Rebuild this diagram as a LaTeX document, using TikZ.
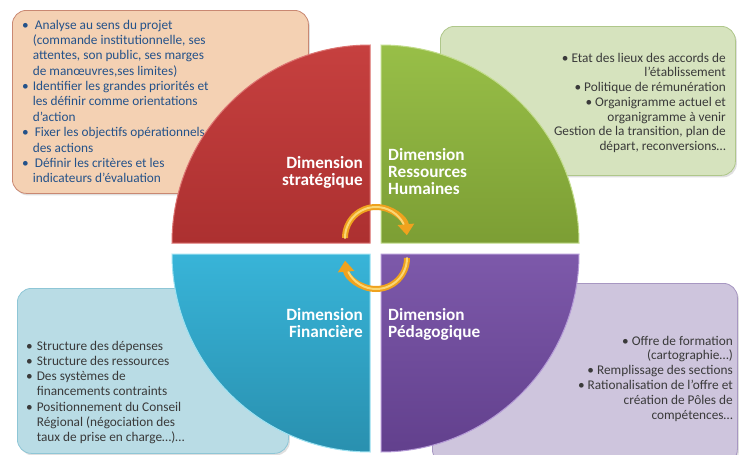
\documentclass[tikz,border=0pt]{standalone}
\usepackage{fontspec}
\setmainfont{Carlito}
\usetikzlibrary{arrows.meta,shadows}

\definecolor{peachfill}{HTML}{F4D1B3}
\definecolor{peachline}{HTML}{C98872}
\definecolor{sagefill}{HTML}{D6E3BE}
\definecolor{sageline}{HTML}{AFC78A}
\definecolor{skyfill}{HTML}{B9DCE5}
\definecolor{skyline}{HTML}{8EC6D6}
\definecolor{lilacfill}{HTML}{CEC5DD}
\definecolor{lilacline}{HTML}{A797C2}
\definecolor{txtblue}{HTML}{24528A}
\definecolor{txtgray}{HTML}{3A3A3A}
\definecolor{redtop}{HTML}{C6403F}
\definecolor{redbot}{HTML}{AC3030}
\definecolor{redrim}{HTML}{DC7472}
\definecolor{greentop}{HTML}{98BF48}
\definecolor{greenbot}{HTML}{7C9E34}
\definecolor{greenrim}{HTML}{C2DC8C}
\definecolor{bluetop}{HTML}{38B4D8}
\definecolor{bluebot}{HTML}{2990AF}
\definecolor{bluerim}{HTML}{9EE2F2}
\definecolor{purpletop}{HTML}{7D59AA}
\definecolor{purplebot}{HTML}{62408D}
\definecolor{purplerim}{HTML}{B49AD6}
\definecolor{arrowgold}{HTML}{EFA21E}
\definecolor{arrowlight}{HTML}{FAD774}

\newcommand\bodytext[1]{\fontsize{13.3}{#1}\selectfont}
\newcommand\dimtext{\fontsize{17.2}{17}\selectfont\bfseries}

\begin{document}
\begin{tikzpicture}[x=1pt,y=-1pt,
  infobox/.style={draw, line width=0.8pt, rounded corners=14pt, inner sep=0pt,
    anchor=north west,
    drop shadow={opacity=0.25, shadow xshift=1.5pt, shadow yshift=-2pt}},
  listtext/.style={inner sep=0pt},
  quarter/.style={line width=1pt},
  dimlabel/.style={inner sep=0pt, text=white, font=\dimtext},
  cyclearrow/.style={line width=6pt, draw=arrowgold,
    -{Triangle[length=11pt,width=16pt]}},
  cycleshine/.style={line width=2pt, draw=arrowlight, line cap=round}]
\useasboundingbox (0,0) rectangle (740,455);

% detail boxes, behind the disc
\node[infobox, draw=peachline, fill=peachfill, minimum width=296pt, minimum height=183pt] (stratbox) at (12,10) {};
\node[infobox, draw=sageline, fill=sagefill, minimum width=295pt, minimum height=149pt] (rhbox) at (440,26) {};
\node[infobox, draw=skyline, fill=skyfill, minimum width=271pt, minimum height=165pt] (finbox) at (17,288) {};
\node[infobox, draw=lilacline, fill=lilacfill, minimum width=305pt, minimum height=180pt] (pedabox) at (432,283) {};

% box texts
\node[listtext, anchor=base west, text=txtblue, font=\bodytext{15.4}] (strattext) at (22,29) {%
\begin{tabular}[t]{@{}l@{\hspace{4pt}}l@{}}
\textbullet & \hspace{2pt}Analyse au sens du projet\\
 & (commande institutionnelle, ses\\
 & attentes, son public, ses marges\\
 & de manœuvres,ses limites)\\
\textbullet & Identifier les grandes priorités et\\
 & les définir comme orientations\\
 & d’action\\
\textbullet & \hspace{2pt}Fixer les objectifs opérationnels\\
 & des actions\\
\textbullet & \hspace{2pt}Définir les critères et les\\
 & indicateurs d’évaluation
\end{tabular}};

\node[listtext, anchor=base east, text=txtgray, font=\bodytext{14.8}] (rhtext) at (726,62) {%
\begin{tabular}[t]{@{}r@{}}
\textbullet\ Etat des lieux des accords de\\
l’établissement\\
\textbullet\ Politique de rémunération\\
\textbullet\ Organigramme actuel et\\
organigramme à venir\\
Gestion de la transition, plan de\\
départ, reconversions…
\end{tabular}};

\node[listtext, anchor=base west, text=txtgray, font=\bodytext{15.3}] (fintext) at (26,350) {%
\begin{tabular}[t]{@{}l@{\hspace{4pt}}l@{}}
\textbullet & Structure des dépenses\\
\textbullet & Structure des ressources\\
\textbullet & Des systèmes de\\
 & financements contraints\\
\textbullet & Positionnement du Conseil\\
 & Régional (négociation des\\
 & taux de prise en charge…)…
\end{tabular}};

\node[listtext, anchor=base east, text=txtgray, font=\bodytext{14.8}] (pedatext) at (733,345) {%
\begin{tabular}[t]{@{}r@{}}
\textbullet\ Offre de formation\\
(cartographie…)\\
\textbullet\ Remplissage des sections\\
\textbullet\ Rationalisation de l’offre et\\
création de Pôles de\\
compétences…
\end{tabular}};

% the four quarters of the disc
\path[quarter, draw=redrim, top color=redtop, bottom color=redbot]
  (370,243) -- (172,243) arc[start angle=180, end angle=270, radius=198] -- cycle;
\path[quarter, draw=greenrim, top color=greentop, bottom color=greenbot]
  (381,243) -- (381,45) arc[start angle=270, end angle=360, radius=198] -- cycle;
\path[quarter, draw=bluerim, top color=bluetop, bottom color=bluebot]
  (370,254) -- (172,254) arc[start angle=180, end angle=90, radius=198] -- cycle;
\path[quarter, draw=purplerim, top color=purpletop, bottom color=purplebot]
  (381,254) -- (579,254) arc[start angle=0, end angle=90, radius=198] -- cycle;

% quarter labels
\node[dimlabel, anchor=base east] (strat) at (363,168)
  {\begin{tabular}[t]{@{}r@{}}Dimension\\stratégique\end{tabular}};
\node[dimlabel, anchor=base west] (rh) at (388,160)
  {\begin{tabular}[t]{@{}l@{}}Dimension\\Ressources\\Humaines\end{tabular}};
\node[dimlabel, anchor=base east] (fin) at (363,320)
  {\begin{tabular}[t]{@{}r@{}}Dimension\\Financière\end{tabular}};
\node[dimlabel, anchor=base west] (peda) at (388,320)
  {\begin{tabular}[t]{@{}l@{}}Dimension\\Pédagogique\end{tabular}};

% cycle arrows in the centre
\coordinate (cycleA) at (345,238);
\coordinate (cycleB) at (407,258);
\draw[cyclearrow] (cycleA) arc[start angle=180, end angle=355, radius=31];
\draw[cycleshine] (cycleA) arc[start angle=180, end angle=333, radius=31];
\draw[cyclearrow] (cycleB) arc[start angle=0, end angle=175, radius=31];
\draw[cycleshine] (cycleB) arc[start angle=0, end angle=153, radius=31];
\end{tikzpicture}
\end{document}
